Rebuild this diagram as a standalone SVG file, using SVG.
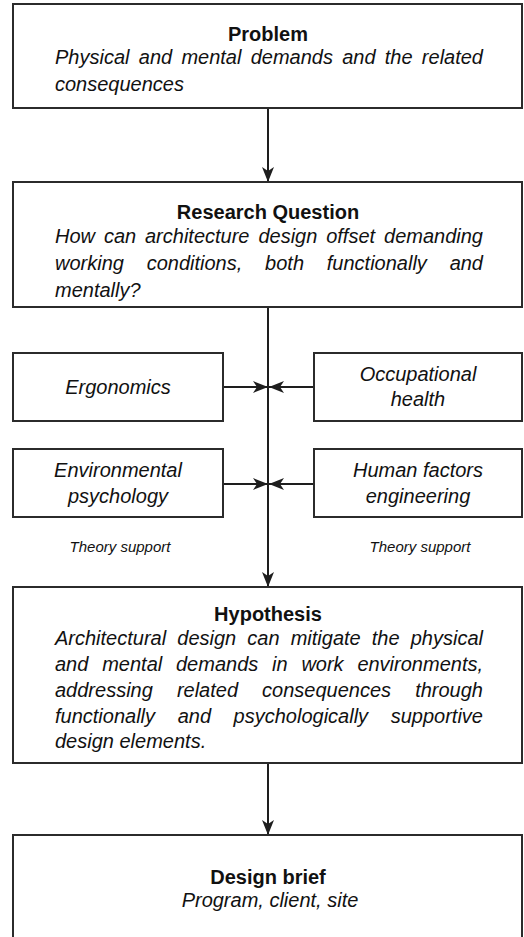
<svg xmlns="http://www.w3.org/2000/svg" width="524" height="937" viewBox="0 0 524 937">
<style>
.box{fill:#fff;stroke:#2b2b2b;stroke-width:2}
.ln{stroke:#1e1e1e;stroke-width:2;fill:none}
.t{font-family:"Liberation Sans",Arial,sans-serif;font-weight:bold;font-size:20px;fill:#111;text-anchor:middle}
.b{font-family:"Liberation Sans",Arial,sans-serif;font-style:italic;font-size:20px;fill:#111}
.c{text-anchor:middle}
.e{text-anchor:end}
.s{font-family:"Liberation Sans",Arial,sans-serif;font-style:italic;font-size:15px;fill:#111;text-anchor:middle}
</style>
<defs>
<marker id="ah" viewBox="0 0 15 12" refX="15" refY="6" markerWidth="15" markerHeight="12" markerUnits="userSpaceOnUse" orient="auto">
<path d="M0,0 L15,6 L0,12 L4,6 Z" fill="#1e1e1e"/>
</marker>
</defs>
<g id="connectors">
<line class="ln" x1="268" y1="108" x2="268" y2="182" marker-end="url(#ah)"/>
<line class="ln" x1="268" y1="307" x2="268" y2="587" marker-end="url(#ah)"/>
<line class="ln" x1="268" y1="763" x2="268" y2="835" marker-end="url(#ah)"/>
<line class="ln" x1="223" y1="387" x2="268" y2="387" marker-end="url(#ah)"/>
<line class="ln" x1="314" y1="387" x2="269" y2="387" marker-end="url(#ah)"/>
<line class="ln" x1="223" y1="484" x2="268" y2="484" marker-end="url(#ah)"/>
<line class="ln" x1="314" y1="484" x2="269" y2="484" marker-end="url(#ah)"/>
</g>
<g id="problem">
<rect class="box" x="13" y="4" width="509" height="104"/>
<text class="t" x="268" y="41">Problem</text>
<text class="b" y="64"><tspan x="55">Physical</tspan> <tspan x="138.8">and</tspan> <tspan x="181.4">mental</tspan> <tspan x="250.7">demands</tspan> <tspan x="342.2">and</tspan> <tspan x="384.8">the</tspan> <tspan x="483" class="e">related</tspan></text>
<text class="b" x="55" y="91">consequences</text>
</g>
<g id="research-question">
<rect class="box" x="13" y="182" width="509" height="125"/>
<text class="t" x="268" y="219">Research Question</text>
<text class="b" y="243"><tspan x="55">How</tspan> <tspan x="103.9">can</tspan> <tspan x="145">architecture</tspan> <tspan x="258.4">design</tspan> <tspan x="326.2">offset</tspan> <tspan x="483" class="e">demanding</tspan></text>
<text class="b" y="270"><tspan x="55">working</tspan> <tspan x="146.7">conditions,</tspan> <tspan x="265.1">both</tspan> <tspan x="326.8">functionally</tspan> <tspan x="483" class="e">and</tspan></text>
<text class="b" x="55" y="297">mentally?</text>
</g>
<g id="ergonomics">
<rect class="box" x="13" y="353" width="210" height="68"/>
<text class="b c" x="118" y="394">Ergonomics</text>
</g>
<g id="occupational-health">
<rect class="box" x="314" y="353" width="208" height="68"/>
<text class="b c" x="418" y="381">Occupational</text>
<text class="b c" x="418" y="406">health</text>
</g>
<g id="environmental-psychology">
<rect class="box" x="13" y="449" width="210" height="68"/>
<text class="b c" x="118" y="477">Environmental</text>
<text class="b c" x="118" y="503">psychology</text>
</g>
<g id="human-factors-engineering">
<rect class="box" x="314" y="449" width="208" height="68"/>
<text class="b c" x="418" y="477">Human factors</text>
<text class="b c" x="418" y="503">engineering</text>
</g>
<g id="theory-support">
<text class="s" x="120" y="552">Theory support</text>
<text class="s" x="420" y="552">Theory support</text>
</g>
<g id="hypothesis">
<rect class="box" x="13" y="587" width="509" height="176"/>
<text class="t" x="268" y="621">Hypothesis</text>
<text class="b" y="645"><tspan x="55">Architectural</tspan> <tspan x="177.3">design</tspan> <tspan x="247.3">can</tspan> <tspan x="290.7">mitigate</tspan> <tspan x="371.8">the</tspan> <tspan x="483" class="e">physical</tspan></text>
<text class="b" y="671"><tspan x="55">and</tspan> <tspan x="102.2">mental</tspan> <tspan x="176">demands</tspan> <tspan x="272">in</tspan> <tspan x="301.4">work</tspan> <tspan x="483" class="e">environments,</tspan></text>
<text class="b" y="697"><tspan x="55">addressing</tspan> <tspan x="176.9">related</tspan> <tspan x="262.1">consequences</tspan> <tspan x="483" class="e">through</tspan></text>
<text class="b" y="723"><tspan x="55">functionally</tspan> <tspan x="177.7">and</tspan> <tspan x="233.6">psychologically</tspan> <tspan x="483" class="e">supportive</tspan></text>
<text class="b" x="55" y="748">design elements.</text>
</g>
<g id="design-brief">
<rect class="box" x="13" y="835" width="509" height="120"/>
<text class="t" x="268" y="884">Design brief</text>
<text class="b c" x="270" y="907">Program, client, site</text>
</g>
</svg>
